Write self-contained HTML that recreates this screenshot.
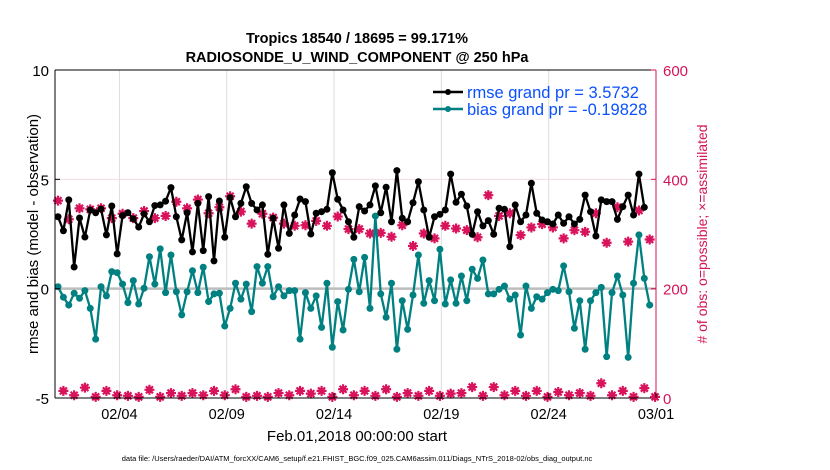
<!DOCTYPE html>
<html><head><meta charset="utf-8"><style>
html,body{margin:0;padding:0;background:#fff;}
svg{display:block;font-family:"Liberation Sans",Arial,sans-serif;}
</style></head><body>
<svg id="chart" width="830" height="470" viewBox="0 0 830 470">
<text x="357" y="43" text-anchor="middle" font-size="14.5" font-weight="bold">Tropics 18540 / 18695 = 99.171%</text>
<text x="357" y="62" text-anchor="middle" font-size="14.5" font-weight="bold">RADIOSONDE_U_WIND_COMPONENT @ 250 hPa</text>
<g id="grid"></g>
<g id="marks"></g>
<g id="axes"></g>
<g>
<line x1="433" y1="92" x2="463" y2="92" stroke="#000" stroke-width="2.5"/><circle cx="448" cy="92" r="3" fill="#000"/>
<text x="467" y="98" font-size="16.5" fill="#0a50ff">rmse grand pr = 3.5732</text>
<line x1="433" y1="109" x2="463" y2="109" stroke="#008080" stroke-width="2.5"/><circle cx="448" cy="109" r="3" fill="#008080"/>
<text x="467" y="115" font-size="16.5" fill="#0a50ff">bias grand pr = -0.19828</text>
</g>
<text transform="translate(38,234) rotate(-90)" text-anchor="middle" font-size="15">rmse and bias (model - observation)</text>
<text transform="translate(707,234) rotate(-90)" text-anchor="middle" font-size="14" fill="#d4145a"># of obs: o=possible; ×=assimilated</text>
<text x="357" y="441" text-anchor="middle" font-size="15">Feb.01,2018 00:00:00 start</text>
<text x="357" y="461" text-anchor="middle" font-size="7.5">data file: /Users/raeder/DAI/ATM_forcXX/CAM6_setup/f.e21.FHIST_BGC.f09_025.CAM6assim.011/Diags_NTrS_2018-02/obs_diag_output.nc</text>
</svg>
<script>
const xTickLabels=["02/04","02/09","02/14","02/19","02/24","03/01"];
const xTickDays=[3,8,13,18,23,28];
const yLeftTicks=[-5,0,5,10];
const yRightTicks=[0,200,400,600];
const rmse=[3.29,2.65,4.06,0.99,3.23,2.36,3.6,3.47,3.64,2.46,3.78,1.59,3.34,3.47,3.19,2.82,3.42,3.06,3.8,3.83,4.0,4.62,3.29,2.23,3.47,1.68,3.9,1.74,4.21,1.27,4.01,2.35,4.16,3.29,3.9,4.66,3.9,3.6,3.83,1.57,3.22,1.85,3.83,2.53,3.37,4.1,3.98,2.5,3.45,3.52,3.63,5.3,4.09,3.6,3.06,2.35,3.75,3.55,3.83,4.7,3.47,4.64,3.06,5.4,3.22,3.06,3.93,4.89,3.6,2.35,3.29,3.4,3.6,5.24,3.95,4.32,3.78,2.49,3.52,2.87,3.11,2.49,3.68,3.63,1.92,3.83,3.06,3.37,4.82,3.45,3.14,3.06,2.96,3.37,2.99,3.29,2.96,3.17,4.28,3.52,2.41,4.06,3.98,3.98,3.17,3.75,4.28,3.37,5.24,3.72];
const bias=[0.09,-0.39,-0.75,-0.21,-0.44,-0.09,-0.9,-2.31,0.09,-0.33,0.78,0.73,0.21,-0.64,0.37,-0.7,0.02,1.46,0.21,1.82,-0.18,1.54,-0.14,-1.2,-0.14,0.82,-0.18,0.98,-0.59,-0.24,-0.21,-1.71,-0.9,0.25,-0.48,0.21,-1.05,1.01,0.25,1.01,-0.37,0.09,-0.33,-0.09,-0.09,-2.31,-0.18,-0.9,-0.33,-1.77,0.25,-2.68,-0.59,-1.89,-0.03,1.34,-0.14,1.43,-0.9,3.32,-0.24,-1.31,0.25,-2.77,-0.55,-1.86,-0.29,1.54,-0.67,0.37,-0.55,1.8,-0.7,0.4,-0.67,0.58,-0.55,0.89,0.47,1.31,-0.24,-0.24,-0.03,0.12,-0.48,-0.29,-2.12,0.12,-0.9,-0.37,-0.48,-0.18,-0.03,-0.09,1.04,-0.14,-1.81,-0.55,-2.77,-0.55,-0.18,0.06,-3.11,-0.18,0.58,-0.29,-3.14,0.25,2.46,0.47,-0.75];
const obsUpper=[361,327,347,345,347,329,337,329,342,329,333,359,347,363,338,349,369,341,319,337,330,319,315,316,324,315,332,309,309,301,302,295,316,278,301,292,315,310,307,294,371,333,338,298,312,318,312,292,307,304,338,284,349,286,343,290];
const obsLower=[13,5,19,2,13,5,4,2,15,2,9,4,9,5,13,5,16,2,4,2,9,5,13,8,13,2,16,5,13,4,16,2,9,4,13,4,8,9,20,4,20,5,13,4,13,2,11,5,9,4,27,5,13,2,18,2];

const NS="http://www.w3.org/2000/svg";
const L=55,R=656,T=70,B=398;
const xDay=d=>L+(d/28)*(R-L);
const xIdx=i=>xDay(0.14+i*0.2506);
const yL=v=>B-(v+5)/15*(B-T);
const yR=v=>B-v/600*(B-T);
function mk(tag,attrs,parent){const e=document.createElementNS(NS,tag);for(const k in attrs)e.setAttribute(k,attrs[k]);parent.appendChild(e);return e;}
const grid=document.getElementById('grid'),marks=document.getElementById('marks'),axes=document.getElementById('axes');
mk('rect',{x:L,y:T,width:R-L,height:B-T,fill:'#fff'},grid);
xTickDays.forEach(d=>{const g=mk('line',{x1:xDay(d),y1:T,x2:xDay(d),y2:B,stroke:'#dcdcdc','stroke-width':1},grid);

});
mk('line',{x1:L,y1:yR(400),x2:R,y2:yR(400),stroke:'#f3dbe4','stroke-width':1},grid);
mk('line',{x1:L,y1:yL(0),x2:R,y2:yL(0),stroke:'#bdbdbd','stroke-width':2.5},grid);
function drawObs(arr,offset,nm){arr.forEach((v,k)=>{const cx=xIdx(offset+2*k),cy=yR(v);
const g=mk('g',{},marks);


mk('circle',{cx:cx,cy:cy,r:3.2,fill:'#d8135c'},g);
mk('path',{d:`M${cx-5},${cy}H${cx+5}M${cx},${cy-5}V${cy+5}M${cx-3.5},${cy-3.5}L${cx+3.5},${cy+3.5}M${cx-3.5},${cy+3.5}L${cx+3.5},${cy-3.5}`,stroke:'#d8135c','stroke-width':2.2},g);});}
drawObs(obsUpper,0,'obs-count-upper');
drawObs(obsLower,1,'obs-count-lower');
function drawLine(arr,color,nm){const p=mk('polyline',{points:arr.map((v,i)=>xIdx(i)+','+yL(v)).join(' '),fill:'none',stroke:color,'stroke-width':2.3,'stroke-linejoin':'round'},marks);


arr.forEach((v,i)=>{const c=mk('circle',{cx:xIdx(i),cy:yL(v),r:3.5,fill:color},marks);

});}
drawLine(bias,'#008080','bias');
drawLine(rmse,'#000','rmse');
mk('line',{x1:L,y1:T,x2:R,y2:T,stroke:'#000','stroke-width':1},axes);
mk('line',{x1:L,y1:B,x2:R,y2:B,stroke:'#000','stroke-width':1},axes);
mk('line',{x1:L,y1:T,x2:L,y2:B,stroke:'#000','stroke-width':1},axes);
mk('line',{x1:R,y1:T,x2:R,y2:B,stroke:'#d4145a','stroke-width':1},axes);
xTickDays.forEach((d,i)=>{mk('line',{x1:xDay(d),y1:B,x2:xDay(d),y2:B-5,stroke:'#000'},axes);
const t=mk('text',{x:xDay(d),y:B+21,'text-anchor':'middle','font-size':14.5},axes);t.textContent=xTickLabels[i];

});
yLeftTicks.forEach(v=>{mk('line',{x1:L,y1:yL(v),x2:L+5,y2:yL(v),stroke:'#000'},axes);
const t=mk('text',{x:L-6,y:yL(v)+6,'text-anchor':'end','font-size':15},axes);t.textContent=v;

});
yRightTicks.forEach(v=>{mk('line',{x1:R-5,y1:yR(v),x2:R,y2:yR(v),stroke:'#d4145a'},axes);
const t=mk('text',{x:R+7,y:yR(v)+6,'font-size':15,fill:'#d4145a'},axes);t.textContent=v;

});
</script>
</body></html>
